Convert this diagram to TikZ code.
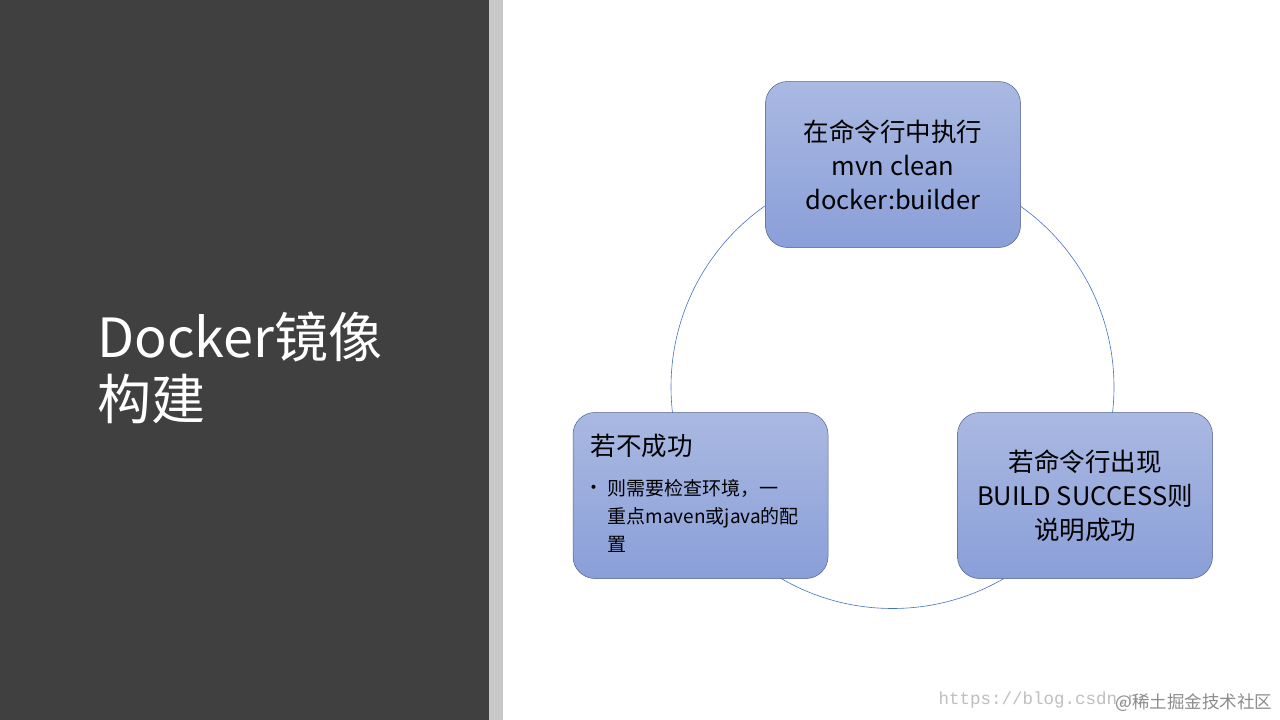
\documentclass[tikz,border=0pt]{standalone}
\usepackage{fontspec}
\setmainfont{Noto Sans CJK SC}
\newfontfamily\monof{Liberation Mono}
\begin{document}
\begin{tikzpicture}[x=1pt,y=-1pt,
  box/.style={draw=boxline,line width=0.5pt,rounded corners=22pt,top color=boxtop,bottom color=boxbot,minimum width=255pt,minimum height=166pt,inner sep=0pt},
  txt/.style={align=center,font=\fontsize{25.5}{34}\selectfont,text=black}]
\definecolor{boxtop}{HTML}{AAB9E2}
\definecolor{boxbot}{HTML}{8A9FD8}
\definecolor{boxline}{HTML}{50608C}
\definecolor{ring}{HTML}{4472C4}
\definecolor{dark}{HTML}{404040}
\definecolor{stripe}{HTML}{C8C8C8}
\useasboundingbox (0,0) rectangle (1280,720);
\fill[white] (0,0) rectangle (1280,720);
\fill[dark] (0,0) rectangle (489,720);
\fill[stripe] (489,0) rectangle (503,720);
\node[anchor=west,align=left,text=white,font=\fontsize{54}{62}\selectfont] (title) at (94,368) {Docker镜像\\构建};
\node[circle,draw=ring,line width=0.6pt,minimum size=443pt,inner sep=0pt] (ring) at (892.5,387) {};
\node[box] (top) at (893,164.5) {};
\node[txt] (toptxt) at (top) {在命令行中执行\\mvn clean\\docker:builder};
\node[box] (right) at (1085,495.5) {};
\node[txt] (righttxt) at (right) {若命令行出现\\BUILD SUCCESS则\\说明成功};
\node[box] (left) at (700.5,495.5) {};
\node[anchor=west,font=\fontsize{25.5}{30}\selectfont] (lhead) at (587,446) {若不成功};
\node[anchor=north west,align=left,font=\fontsize{19}{28}\selectfont] (lbody) at (604,476) {则需要检查环境，一\\重点maven或java的配\\置};
\node[font=\fontsize{19}{28}\selectfont] (bullet) at (594,490) {•};
\node[anchor=west,text=black!25,font=\monof\fontsize{17.5}{20}\selectfont] (wm1) at (935,700) {https://blog.csdn.n};
\node[anchor=east,text=black!45,font=\fontsize{17.5}{20}\selectfont] (wm2) at (1276,703) {@稀土掘金技术社区};
\end{tikzpicture}
\end{document}
